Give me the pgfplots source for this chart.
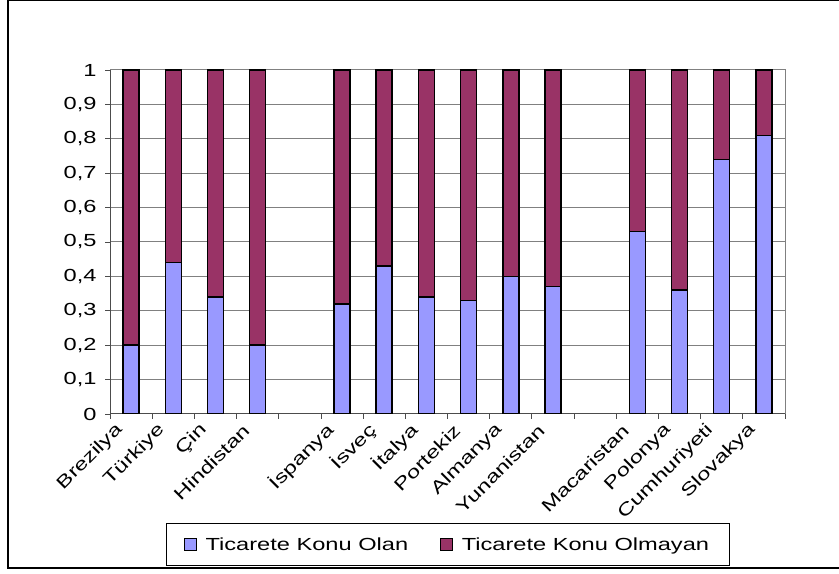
\documentclass[border=0pt]{standalone}
\usepackage{fontspec}
\setmainfont{Liberation Sans}[FakeStretch=1.35]
\usepackage{pgfplots}
\pgfplotsset{compat=1.18}
\definecolor{olan}{HTML}{9999FF}
\definecolor{olmayan}{HTML}{993366}
\definecolor{gridgray}{HTML}{808080}
\pgfplotsset{sqlegend/.style={legend image code/.code={
  \path[draw=none, fill=none] (0bp,0bp) -- (19bp,0bp);
  \draw[##1, line width=1.2bp] (0bp,-6bp) rectangle (12bp,6bp);}}}
\begin{document}
\begin{tikzpicture}[x=1bp,y=1bp]
\useasboundingbox (0,0) rectangle (839,574);
\fill[white] (0,0) rectangle (839,574);
\begin{axis}[
    at={(110bp,160bp)}, anchor=south west,
    scale only axis, width=675bp, height=344bp,
    ybar stacked, bar width=16bp,
    xmin=-0.5, xmax=15.5, ymin=0, ymax=1,
    xtick={0,1,2,3,5,6,7,8,9,10,12,13,14,15},
    xticklabels={Brezilya,Türkiye,Çin,Hindistan,İspanya,İsveç,İtalya,Portekiz,Almanya,Yunanistan,Macaristan,Polonya,Cumhuriyeti,Slovakya},
    minor xtick={-0.5,0.5,1.5,2.5,3.5,4.5,5.5,6.5,7.5,8.5,9.5,10.5,11.5,12.5,13.5,14.5,15.5},
    ytick={0,0.1,0.2,0.3,0.4,0.5,0.6,0.7,0.8,0.9,1},
    tick pos=left, tick align=outside,
    major tick length=5bp, minor tick length=5bp,
    every major x tick/.style={draw=none},
    every minor x tick/.style={draw=black!70, line width=0.8bp},
    every major y tick/.style={draw=black!70, line width=0.8bp},
    ymajorgrids,
    grid style={gridgray, line width=1bp},
    axis line style={gridgray, line width=1bp},
    yticklabel style={/pgf/number format/fixed, /pgf/number format/precision=1,
        /pgf/number format/use comma, /pgf/number format/assume math mode=true,
        font=\fontsize{17.5bp}{20bp}\selectfont, xshift=-5bp},
    xticklabel style={font=\fontsize{17.5bp}{20bp}\selectfont,
        xshift=-9bp, yshift=-6bp, rotate=45, anchor=east},
    legend columns=2,
    legend style={at={(0.5,-0.317)}, anchor=north, draw=black, line width=0.8bp,
        font=\fontsize{17.5bp}{20bp}\selectfont,
        inner xsep=18bp, inner ysep=12bp,
        /tikz/every even column/.append style={column sep=30bp}},
]
\addplot[fill=olan, draw=black, line width=1.5bp, sqlegend] coordinates {
    (0,0.20) (1,0.44) (2,0.34) (3,0.20)
    (5,0.32) (6,0.43) (7,0.34) (8,0.33) (9,0.40) (10,0.37)
    (12,0.53) (13,0.36) (14,0.74) (15,0.81)};
\addlegendentry{Ticarete Konu Olan}
\addplot[fill=olmayan, draw=black, line width=1.5bp, sqlegend] coordinates {
    (0,0.80) (1,0.56) (2,0.66) (3,0.80)
    (5,0.68) (6,0.57) (7,0.66) (8,0.67) (9,0.60) (10,0.63)
    (12,0.47) (13,0.64) (14,0.26) (15,0.19)};
\addlegendentry{Ticarete Konu Olmayan}
\draw[black!70, line width=1bp] (rel axis cs:0,0) -- (rel axis cs:0,1);
\draw[black!70, line width=1bp] (rel axis cs:0,0) -- (rel axis cs:1,0);
\end{axis}
% chart frame
\draw[line width=2.5bp] (8,574) -- (8,6) -- (839,6);
\draw[line width=1bp] (8,573) -- (839,573);
\end{tikzpicture}
\end{document}
